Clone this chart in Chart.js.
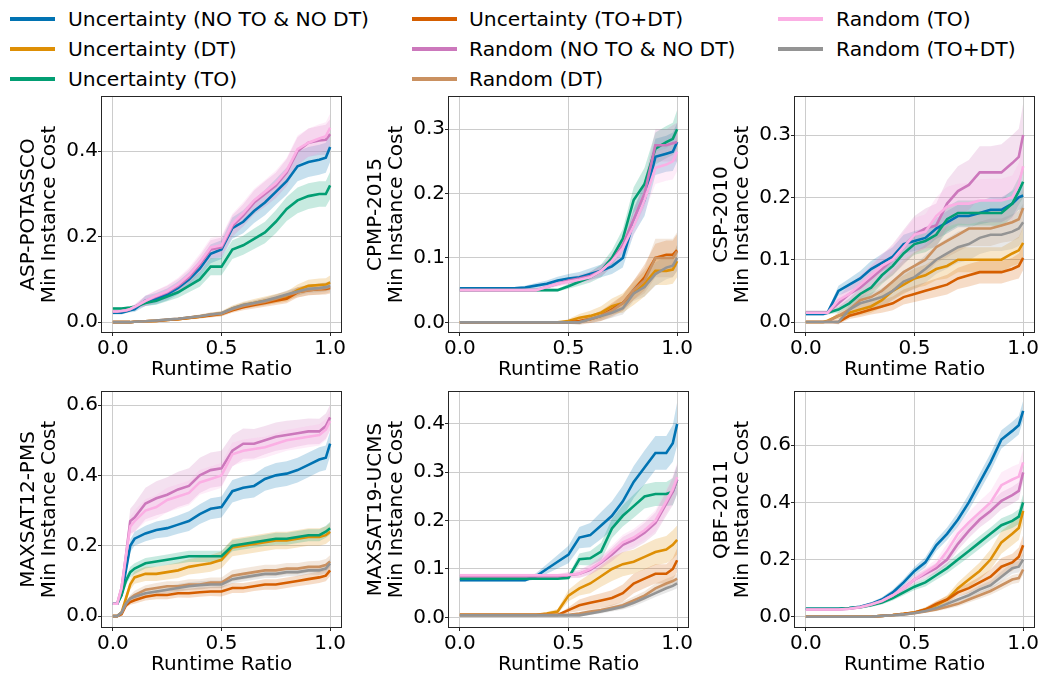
<!DOCTYPE html>
<html><head><meta charset="utf-8">
<script src="https://cdn.jsdelivr.net/npm/chart.js@4.4.0/dist/chart.umd.min.js"></script>
<style>
html,body{margin:0;padding:0;background:#fff;}
body{width:1040px;height:677px;position:relative;overflow:hidden;font-family:'DejaVu Sans',sans-serif;}
canvas{position:absolute;}
.lg-line{position:absolute;height:4px;width:45px;}
.lg-text{position:absolute;font-size:20.3px;line-height:30px;white-space:nowrap;color:#000;}
</style></head><body>
<div id="legend"></div>
<canvas id="p0" width="346" height="292" style="left:0px;top:90px"></canvas>
<canvas id="p1" width="346" height="292" style="left:347px;top:90px"></canvas>
<canvas id="p2" width="346" height="292" style="left:693px;top:90px"></canvas>
<canvas id="p3" width="346" height="292" style="left:0px;top:385px"></canvas>
<canvas id="p4" width="346" height="292" style="left:347px;top:385px"></canvas>
<canvas id="p5" width="346" height="292" style="left:693px;top:385px"></canvas>
<script>
// ---------- data ----------
const X = [0,0.02,0.04,0.06,0.08,0.1,0.15,0.2,0.25,0.3,0.35,0.4,0.45,0.5,0.55,0.6,0.65,0.7,0.75,0.8,0.85,0.9,0.95,0.98,1.0];
const SERIES = ['Uncertainty (NO TO & NO DT)','Uncertainty (DT)','Uncertainty (TO)','Uncertainty (TO+DT)',
                'Random (NO TO & NO DT)','Random (DT)','Random (TO)','Random (TO+DT)'];
const COLORS = ['#0173b2','#de8f05','#029e73','#d55e00','#cc78bc','#ca9161','#fbafe4','#949494'];
const PANELS = ['ASP-POTASSCO','CPMP-2015','CSP-2010','MAXSAT12-PMS','MAXSAT19-UCMS','QBF-2011'];
const X_TICKS = [0,0.5,1.0];
const Y_TICKS = [[0,0.2,0.4],[0,0.1,0.2,0.3],[0,0.1,0.2,0.3],[0,0.2,0.4,0.6],[0,0.1,0.2,0.3,0.4],[0,0.2,0.4,0.6]];
const Y_MIN = [-0.023,-0.015,-0.016,-0.031,-0.020,-0.036];
const Y_MAX = [0.527,0.350,0.361,0.637,0.466,0.786];

// mean curves (order of SERIES)
const aspMean = [
 [0.022,0.022,0.022,0.025,0.028,0.03,0.05,0.055,0.065,0.08,0.1,0.125,0.16,0.17,0.22,0.235,0.26,0.28,0.305,0.33,0.365,0.375,0.38,0.385,0.41],
 [0,0,0,0,0,0.001,0.002,0.003,0.005,0.007,0.01,0.013,0.017,0.02,0.032,0.04,0.045,0.05,0.055,0.06,0.075,0.085,0.087,0.088,0.093],
 [0.032,0.032,0.032,0.033,0.034,0.036,0.045,0.05,0.06,0.07,0.085,0.1,0.13,0.13,0.17,0.18,0.195,0.21,0.235,0.265,0.285,0.295,0.3,0.3,0.32],
 [0,0,0,0,0,0.001,0.002,0.003,0.005,0.007,0.01,0.013,0.016,0.019,0.028,0.035,0.04,0.045,0.05,0.055,0.07,0.075,0.077,0.078,0.08],
 [0.025,0.025,0.026,0.027,0.03,0.035,0.05,0.06,0.07,0.085,0.105,0.135,0.17,0.175,0.225,0.25,0.28,0.3,0.32,0.35,0.4,0.42,0.425,0.427,0.44],
 [0,0,0,0,0,0.001,0.002,0.004,0.006,0.008,0.011,0.014,0.018,0.02,0.03,0.038,0.043,0.048,0.055,0.063,0.07,0.075,0.078,0.08,0.083],
 [0.025,0.025,0.026,0.028,0.031,0.036,0.05,0.062,0.072,0.088,0.11,0.14,0.175,0.18,0.23,0.255,0.285,0.305,0.325,0.355,0.405,0.42,0.43,0.435,0.455],
 [0,0,0,0,0,0.001,0.002,0.004,0.006,0.008,0.011,0.014,0.018,0.021,0.032,0.04,0.045,0.05,0.057,0.065,0.072,0.078,0.08,0.082,0.085]
];
const aspSpread = [
 [0.004,0.004,0.004,0.004,0.005,0.006,0.012,0.013,0.014,0.015,0.017,0.02,0.022,0.022,0.025,0.027,0.028,0.03,0.03,0.032,0.035,0.035,0.035,0.035,0.035],
 [0,0,0,0,0,0.001,0.001,0.002,0.003,0.003,0.004,0.005,0.005,0.006,0.007,0.008,0.009,0.01,0.011,0.012,0.013,0.014,0.015,0.015,0.016],
 [0.003,0.003,0.003,0.003,0.004,0.004,0.007,0.009,0.011,0.013,0.015,0.017,0.02,0.02,0.022,0.022,0.024,0.025,0.027,0.028,0.03,0.03,0.03,0.03,0.032],
 [0,0,0,0,0,0.001,0.001,0.002,0.002,0.003,0.003,0.004,0.005,0.005,0.006,0.007,0.008,0.009,0.01,0.011,0.012,0.012,0.013,0.013,0.013],
 [0.004,0.004,0.004,0.005,0.005,0.006,0.012,0.014,0.015,0.016,0.018,0.02,0.022,0.023,0.025,0.026,0.028,0.03,0.03,0.032,0.033,0.033,0.034,0.035,0.035],
 [0,0,0,0,0,0.001,0.001,0.002,0.002,0.003,0.003,0.004,0.005,0.005,0.006,0.007,0.008,0.009,0.01,0.011,0.012,0.012,0.013,0.013,0.013],
 [0.004,0.004,0.004,0.005,0.005,0.006,0.012,0.013,0.015,0.016,0.018,0.02,0.022,0.022,0.024,0.026,0.027,0.028,0.03,0.03,0.032,0.033,0.033,0.033,0.033],
 [0,0,0,0,0,0.001,0.001,0.001,0.002,0.002,0.003,0.003,0.004,0.004,0.005,0.006,0.006,0.007,0.008,0.008,0.009,0.01,0.01,0.01,0.01]
];
const cpmpMean = [
 [0.053,0.053,0.053,0.053,0.053,0.053,0.053,0.053,0.053,0.054,0.057,0.06,0.065,0.068,0.07,0.075,0.08,0.087,0.1,0.157,0.19,0.257,0.262,0.265,0.28],
 [0,0,0,0,0,0,0,0,0,0,0,0,0,0.002,0.007,0.01,0.015,0.025,0.03,0.045,0.06,0.08,0.08,0.082,0.095],
 [0.05,0.05,0.05,0.05,0.05,0.05,0.05,0.05,0.05,0.05,0.05,0.05,0.05,0.056,0.063,0.07,0.08,0.1,0.13,0.19,0.215,0.27,0.28,0.285,0.3],
 [0,0,0,0,0,0,0,0,0,0,0,0,0,0,0.002,0.005,0.01,0.02,0.03,0.05,0.07,0.1,0.105,0.105,0.112],
 [0.05,0.05,0.05,0.05,0.05,0.05,0.05,0.05,0.05,0.05,0.05,0.055,0.06,0.065,0.068,0.072,0.08,0.095,0.12,0.16,0.2,0.275,0.275,0.278,0.28],
 [0,0,0,0,0,0,0,0,0,0,0,0,0,0,0,0.005,0.01,0.018,0.03,0.05,0.065,0.1,0.1,0.1,0.11],
 [0.05,0.05,0.05,0.05,0.05,0.05,0.05,0.05,0.05,0.05,0.05,0.055,0.06,0.063,0.066,0.07,0.08,0.095,0.115,0.15,0.19,0.24,0.245,0.25,0.265],
 [0,0,0,0,0,0,0,0,0,0,0,0,0,0,0,0.005,0.01,0.015,0.022,0.045,0.055,0.075,0.085,0.088,0.1]
];
const cpmpSpread = [
 [0.002,0.002,0.002,0.002,0.002,0.002,0.002,0.002,0.002,0.003,0.004,0.005,0.006,0.007,0.008,0.009,0.01,0.012,0.015,0.02,0.025,0.028,0.028,0.03,0.03],
 [0,0,0,0,0,0,0,0,0,0,0,0,0,0.003,0.006,0.008,0.01,0.012,0.015,0.018,0.02,0.022,0.022,0.022,0.025],
 [0.002,0.002,0.002,0.002,0.002,0.002,0.002,0.002,0.002,0.002,0.002,0.002,0.002,0.004,0.006,0.008,0.01,0.012,0.015,0.02,0.025,0.025,0.025,0.025,0.03],
 [0,0,0,0,0,0,0,0,0,0,0,0,0,0.002,0.004,0.006,0.008,0.01,0.012,0.015,0.02,0.022,0.022,0.022,0.025],
 [0.002,0.002,0.002,0.002,0.002,0.002,0.002,0.002,0.002,0.002,0.002,0.003,0.004,0.005,0.006,0.007,0.008,0.01,0.012,0.015,0.02,0.025,0.025,0.028,0.03],
 [0,0,0,0,0,0,0,0,0,0,0,0,0,0.002,0.004,0.006,0.008,0.01,0.012,0.015,0.02,0.03,0.03,0.03,0.03],
 [0.002,0.002,0.002,0.002,0.002,0.002,0.002,0.002,0.002,0.002,0.002,0.003,0.004,0.005,0.006,0.007,0.008,0.01,0.012,0.015,0.02,0.025,0.025,0.028,0.03],
 [0,0,0,0,0,0,0,0,0,0,0,0,0,0.002,0.003,0.005,0.007,0.008,0.01,0.012,0.015,0.018,0.018,0.018,0.02]
];
const cspMean = [
 [0.013,0.013,0.013,0.013,0.013,0.015,0.05,0.06,0.07,0.085,0.095,0.105,0.125,0.13,0.135,0.15,0.16,0.17,0.17,0.175,0.18,0.18,0.19,0.2,0.203],
 [0,0,0,0,0,0.002,0.01,0.015,0.02,0.025,0.035,0.05,0.06,0.07,0.075,0.085,0.09,0.1,0.1,0.1,0.1,0.1,0.11,0.115,0.127],
 [0.015,0.015,0.015,0.015,0.015,0.015,0.02,0.03,0.045,0.055,0.075,0.09,0.11,0.125,0.13,0.14,0.165,0.175,0.175,0.175,0.175,0.175,0.19,0.21,0.225],
 [0,0,0,0,0,0,0,0.01,0.015,0.02,0.025,0.03,0.04,0.045,0.05,0.055,0.06,0.07,0.075,0.08,0.08,0.08,0.085,0.09,0.103],
 [0.015,0.015,0.015,0.015,0.015,0.015,0.03,0.045,0.055,0.07,0.085,0.1,0.12,0.14,0.15,0.155,0.19,0.21,0.22,0.24,0.24,0.24,0.255,0.265,0.3],
 [0,0,0,0,0,0.001,0.01,0.02,0.035,0.04,0.05,0.065,0.08,0.09,0.1,0.12,0.13,0.14,0.15,0.15,0.15,0.155,0.16,0.165,0.183],
 [0.015,0.015,0.015,0.015,0.015,0.015,0.035,0.045,0.06,0.075,0.09,0.1,0.12,0.14,0.145,0.17,0.185,0.19,0.19,0.195,0.195,0.195,0.2,0.22,0.25],
 [0,0,0,0,0,0,0,0.02,0.03,0.035,0.04,0.05,0.065,0.072,0.085,0.1,0.11,0.12,0.125,0.135,0.14,0.14,0.145,0.15,0.16]
];
const cspSpread = [
 [0.003,0.003,0.003,0.003,0.003,0.003,0.008,0.01,0.012,0.013,0.014,0.015,0.015,0.016,0.016,0.017,0.018,0.018,0.018,0.018,0.02,0.02,0.02,0.02,0.022],
 [0,0,0,0,0,0,0.005,0.007,0.009,0.01,0.012,0.014,0.015,0.016,0.017,0.018,0.02,0.02,0.02,0.02,0.02,0.02,0.02,0.022,0.025],
 [0.003,0.003,0.003,0.003,0.003,0.003,0.005,0.008,0.01,0.012,0.014,0.015,0.016,0.017,0.018,0.018,0.02,0.02,0.02,0.02,0.02,0.022,0.022,0.022,0.025],
 [0,0,0,0,0,0,0.003,0.005,0.007,0.008,0.01,0.011,0.012,0.013,0.014,0.015,0.016,0.017,0.018,0.018,0.018,0.018,0.018,0.02,0.02],
 [0.003,0.003,0.003,0.003,0.003,0.003,0.01,0.015,0.018,0.02,0.022,0.025,0.028,0.03,0.032,0.035,0.038,0.04,0.04,0.042,0.042,0.045,0.045,0.045,0.05],
 [0,0,0,0,0,0,0.006,0.01,0.012,0.014,0.016,0.018,0.02,0.022,0.024,0.025,0.026,0.027,0.028,0.028,0.028,0.028,0.03,0.03,0.032],
 [0.003,0.003,0.003,0.003,0.003,0.003,0.01,0.013,0.016,0.018,0.02,0.022,0.025,0.027,0.028,0.03,0.032,0.032,0.033,0.034,0.035,0.035,0.035,0.035,0.04],
 [0,0,0,0,0,0,0.004,0.008,0.01,0.012,0.014,0.016,0.018,0.02,0.022,0.023,0.024,0.025,0.026,0.026,0.026,0.026,0.028,0.028,0.03]
];
const ms12Mean = [
 [0.035,0.035,0.06,0.13,0.2,0.22,0.235,0.245,0.25,0.26,0.27,0.29,0.305,0.31,0.355,0.365,0.37,0.39,0.4,0.405,0.415,0.43,0.445,0.45,0.49],
 [0,0,0.01,0.05,0.09,0.11,0.12,0.12,0.125,0.13,0.14,0.145,0.15,0.16,0.195,0.2,0.205,0.21,0.215,0.215,0.22,0.225,0.225,0.23,0.24],
 [0.035,0.035,0.06,0.1,0.125,0.135,0.15,0.155,0.16,0.165,0.17,0.17,0.17,0.17,0.2,0.205,0.21,0.215,0.22,0.22,0.225,0.23,0.23,0.24,0.25],
 [0,0,0.005,0.03,0.04,0.045,0.055,0.06,0.06,0.065,0.065,0.068,0.07,0.07,0.08,0.08,0.085,0.09,0.09,0.095,0.1,0.105,0.11,0.115,0.13],
 [0.035,0.035,0.08,0.17,0.27,0.28,0.32,0.335,0.345,0.36,0.37,0.4,0.415,0.42,0.47,0.49,0.49,0.5,0.51,0.515,0.52,0.525,0.525,0.54,0.565],
 [0,0,0.01,0.035,0.05,0.06,0.075,0.08,0.085,0.085,0.09,0.09,0.095,0.095,0.115,0.12,0.125,0.13,0.13,0.135,0.135,0.14,0.14,0.145,0.155],
 [0.035,0.035,0.08,0.17,0.255,0.27,0.3,0.31,0.33,0.34,0.35,0.38,0.39,0.4,0.46,0.47,0.475,0.48,0.49,0.5,0.505,0.51,0.515,0.53,0.555],
 [0,0,0.01,0.035,0.05,0.055,0.065,0.07,0.075,0.08,0.085,0.088,0.09,0.09,0.105,0.11,0.115,0.12,0.12,0.125,0.125,0.13,0.13,0.135,0.15]
];
const ms12Spread = [
 [0.003,0.003,0.006,0.012,0.018,0.02,0.022,0.024,0.025,0.026,0.028,0.028,0.03,0.03,0.032,0.032,0.033,0.034,0.035,0.035,0.035,0.035,0.035,0.035,0.035],
 [0,0,0.003,0.01,0.015,0.018,0.02,0.02,0.021,0.022,0.022,0.023,0.024,0.024,0.025,0.025,0.025,0.025,0.025,0.025,0.025,0.025,0.025,0.025,0.025],
 [0.003,0.003,0.006,0.012,0.015,0.015,0.015,0.015,0.015,0.016,0.016,0.016,0.016,0.016,0.016,0.016,0.016,0.016,0.017,0.017,0.017,0.017,0.017,0.017,0.018],
 [0,0,0.002,0.006,0.008,0.01,0.011,0.012,0.012,0.012,0.013,0.013,0.013,0.014,0.014,0.014,0.014,0.015,0.015,0.015,0.015,0.016,0.016,0.016,0.016],
 [0.003,0.003,0.01,0.025,0.035,0.04,0.045,0.048,0.05,0.05,0.05,0.05,0.05,0.05,0.045,0.043,0.042,0.04,0.04,0.04,0.038,0.037,0.036,0.036,0.036],
 [0,0,0.002,0.008,0.01,0.012,0.013,0.014,0.014,0.014,0.015,0.015,0.015,0.015,0.016,0.016,0.016,0.016,0.016,0.016,0.016,0.016,0.017,0.017,0.018],
 [0.003,0.003,0.01,0.02,0.028,0.03,0.032,0.034,0.035,0.035,0.035,0.035,0.035,0.035,0.033,0.032,0.031,0.03,0.03,0.03,0.03,0.03,0.03,0.03,0.03],
 [0,0,0.002,0.006,0.008,0.009,0.01,0.01,0.01,0.011,0.011,0.011,0.011,0.011,0.012,0.012,0.012,0.012,0.012,0.012,0.012,0.012,0.013,0.013,0.013]
];
const ms19Mean = [
 [0.077,0.077,0.077,0.077,0.077,0.077,0.077,0.077,0.077,0.077,0.085,0.1,0.115,0.13,0.165,0.17,0.19,0.21,0.24,0.28,0.31,0.34,0.34,0.36,0.4],
 [0.005,0.005,0.005,0.005,0.005,0.005,0.005,0.005,0.005,0.005,0.005,0.008,0.012,0.045,0.06,0.07,0.085,0.1,0.11,0.115,0.125,0.135,0.14,0.15,0.16],
 [0.08,0.08,0.08,0.08,0.08,0.08,0.08,0.08,0.08,0.08,0.08,0.08,0.08,0.082,0.12,0.122,0.136,0.184,0.21,0.23,0.25,0.255,0.255,0.26,0.285],
 [0.005,0.005,0.005,0.005,0.005,0.005,0.005,0.005,0.005,0.005,0.005,0.005,0.005,0.015,0.025,0.03,0.035,0.04,0.05,0.07,0.08,0.09,0.09,0.1,0.118],
 [0.085,0.085,0.085,0.085,0.085,0.085,0.085,0.085,0.085,0.085,0.085,0.085,0.085,0.087,0.09,0.098,0.113,0.13,0.15,0.16,0.175,0.195,0.235,0.26,0.285],
 [0.005,0.005,0.005,0.005,0.005,0.005,0.005,0.005,0.005,0.005,0.005,0.005,0.005,0.005,0.008,0.012,0.015,0.02,0.025,0.035,0.045,0.06,0.07,0.075,0.08],
 [0.087,0.087,0.087,0.087,0.087,0.087,0.087,0.087,0.087,0.087,0.087,0.087,0.087,0.088,0.09,0.1,0.115,0.135,0.155,0.165,0.18,0.2,0.24,0.265,0.29],
 [0.004,0.004,0.004,0.004,0.004,0.004,0.004,0.004,0.004,0.004,0.004,0.004,0.004,0.004,0.004,0.008,0.012,0.017,0.022,0.03,0.04,0.05,0.06,0.065,0.07]
];
const ms19Spread = [
 [0.003,0.003,0.003,0.003,0.003,0.003,0.003,0.003,0.003,0.003,0.006,0.01,0.014,0.018,0.022,0.025,0.028,0.03,0.032,0.033,0.035,0.035,0.035,0.038,0.045],
 [0.001,0.001,0.001,0.001,0.001,0.001,0.001,0.001,0.001,0.001,0.001,0.003,0.005,0.012,0.015,0.02,0.022,0.025,0.025,0.025,0.026,0.027,0.028,0.03,0.03],
 [0.003,0.003,0.003,0.003,0.003,0.003,0.003,0.003,0.003,0.003,0.003,0.003,0.003,0.005,0.012,0.015,0.018,0.02,0.022,0.024,0.025,0.025,0.025,0.028,0.03],
 [0.001,0.001,0.001,0.001,0.001,0.001,0.001,0.001,0.001,0.001,0.001,0.001,0.001,0.006,0.012,0.014,0.015,0.016,0.018,0.02,0.02,0.02,0.02,0.022,0.025],
 [0.003,0.003,0.003,0.003,0.003,0.003,0.003,0.003,0.003,0.003,0.003,0.003,0.003,0.006,0.008,0.01,0.012,0.014,0.016,0.018,0.02,0.022,0.025,0.028,0.03],
 [0.001,0.001,0.001,0.001,0.001,0.001,0.001,0.001,0.001,0.001,0.001,0.001,0.001,0.001,0.003,0.004,0.005,0.006,0.007,0.008,0.009,0.01,0.01,0.01,0.01],
 [0.003,0.003,0.003,0.003,0.003,0.003,0.003,0.003,0.003,0.003,0.003,0.003,0.003,0.006,0.008,0.01,0.012,0.014,0.016,0.018,0.02,0.022,0.025,0.028,0.03],
 [0.001,0.001,0.001,0.001,0.001,0.001,0.001,0.001,0.001,0.001,0.001,0.001,0.001,0.001,0.001,0.003,0.004,0.005,0.006,0.007,0.008,0.008,0.009,0.009,0.01]
];
const qbfMean = [
 [0.028,0.028,0.028,0.028,0.028,0.028,0.028,0.03,0.035,0.045,0.06,0.085,0.12,0.16,0.19,0.25,0.29,0.34,0.4,0.47,0.54,0.62,0.65,0.67,0.72],
 [0,0,0,0,0,0,0,0,0,0,0.003,0.006,0.01,0.015,0.025,0.04,0.06,0.1,0.13,0.16,0.2,0.26,0.29,0.31,0.37],
 [0.028,0.028,0.028,0.028,0.028,0.028,0.028,0.03,0.033,0.04,0.05,0.065,0.085,0.105,0.12,0.145,0.17,0.2,0.23,0.26,0.29,0.32,0.335,0.35,0.4],
 [0,0,0,0,0,0,0,0,0,0,0.003,0.006,0.01,0.015,0.025,0.045,0.06,0.085,0.1,0.12,0.14,0.175,0.19,0.21,0.25],
 [0.025,0.025,0.025,0.025,0.025,0.025,0.025,0.028,0.033,0.043,0.055,0.075,0.1,0.13,0.15,0.17,0.2,0.255,0.3,0.34,0.37,0.405,0.425,0.44,0.505],
 [0,0,0,0,0,0,0,0,0,0,0.003,0.005,0.008,0.012,0.018,0.025,0.035,0.045,0.06,0.075,0.09,0.11,0.13,0.135,0.165],
 [0.025,0.025,0.025,0.025,0.025,0.025,0.025,0.028,0.033,0.043,0.055,0.075,0.1,0.13,0.155,0.18,0.23,0.29,0.33,0.365,0.4,0.46,0.48,0.49,0.54],
 [0,0,0,0,0,0,0,0,0,0,0.003,0.005,0.008,0.013,0.02,0.03,0.045,0.06,0.075,0.095,0.11,0.14,0.17,0.175,0.2]
];
const qbfSpread = [
 [0.003,0.003,0.003,0.003,0.003,0.003,0.003,0.004,0.005,0.006,0.008,0.01,0.012,0.015,0.018,0.02,0.022,0.025,0.028,0.03,0.032,0.032,0.032,0.033,0.035],
 [0,0,0,0,0,0,0,0,0,0,0.001,0.002,0.003,0.005,0.008,0.012,0.015,0.02,0.025,0.03,0.035,0.04,0.04,0.042,0.045],
 [0.003,0.003,0.003,0.003,0.003,0.003,0.003,0.004,0.005,0.006,0.007,0.008,0.01,0.012,0.014,0.016,0.018,0.02,0.022,0.022,0.022,0.024,0.025,0.026,0.028],
 [0,0,0,0,0,0,0,0,0,0,0.001,0.002,0.003,0.005,0.007,0.01,0.012,0.015,0.018,0.02,0.025,0.03,0.03,0.032,0.035],
 [0.003,0.003,0.003,0.003,0.003,0.003,0.003,0.004,0.005,0.006,0.008,0.01,0.012,0.014,0.016,0.018,0.02,0.022,0.025,0.028,0.03,0.03,0.03,0.03,0.035],
 [0,0,0,0,0,0,0,0,0,0,0.001,0.002,0.002,0.003,0.004,0.006,0.008,0.009,0.01,0.012,0.013,0.015,0.016,0.016,0.018],
 [0.003,0.003,0.003,0.003,0.003,0.003,0.003,0.004,0.005,0.006,0.008,0.01,0.012,0.015,0.018,0.02,0.025,0.03,0.035,0.04,0.04,0.045,0.045,0.045,0.045],
 [0,0,0,0,0,0,0,0,0,0,0.001,0.002,0.002,0.003,0.005,0.007,0.008,0.01,0.012,0.014,0.015,0.018,0.02,0.02,0.022]
];
const MEANS = [aspMean, cpmpMean, cspMean, ms12Mean, ms19Mean, qbfMean];
const SPREADS = [aspSpread, cpmpSpread, cspSpread, ms12Spread, ms19Spread, qbfSpread];

// ---------- legend (HTML text) ----------
const LEG_COL_LINE = [10, 412, 778];
const LEG_COL_TEXT = [68, 469, 836];
const LEG_ROW_Y = [18.5, 49, 79];
(function buildLegend(){
  const host = document.getElementById('legend');
  SERIES.forEach((name, k) => {
    const col = Math.floor(k / 3), row = k % 3;
    const ln = document.createElement('div');
    ln.className = 'lg-line';
    ln.style.left = LEG_COL_LINE[col] + 'px';
    ln.style.top = (LEG_ROW_Y[row] - 2) + 'px';
    ln.style.background = COLORS[k];
    host.appendChild(ln);
    const tx = document.createElement('div');
    tx.className = 'lg-text';
    tx.style.left = LEG_COL_TEXT[col] + 'px';
    tx.style.top = (LEG_ROW_Y[row] - 14.6) + 'px';
    tx.textContent = name;
    host.appendChild(tx);
  });
})();

// ---------- charts ----------
function rgba(hex, a) {
  const n = parseInt(hex.slice(1), 16);
  return `rgba(${(n>>16)&255},${(n>>8)&255},${n&255},${a})`;
}
const framePlugin = {
  id: 'frame',
  afterDraw(chart) {
    const {ctx, chartArea: a} = chart;
    ctx.save();
    ctx.strokeStyle = '#262626';
    ctx.lineWidth = 1;
    ctx.strokeRect(Math.round(a.left) - 0.5, Math.round(a.top) - 0.5,
                   Math.round(a.right - a.left) + 1, Math.round(a.bottom - a.top) + 1);
    ctx.restore();
  }
};
const FONT = {family: 'DejaVu Sans', size: 20};

function makeChart(p) {
  const datasets = [];
  for (let k = 0; k < 8; k++) {
    const m = MEANS[p][k], s = SPREADS[p][k];
    datasets.push({
      data: X.map((x, i) => ({x, y: m[i] - s[i]})),
      borderColor: 'rgba(0,0,0,0)', borderWidth: 0, pointRadius: 0, fill: false,
      order: 100 + (7 - k)
    });
    datasets.push({
      data: X.map((x, i) => ({x, y: m[i] + s[i]})),
      borderColor: 'rgba(0,0,0,0)', borderWidth: 0, pointRadius: 0,
      fill: '-1', backgroundColor: rgba(COLORS[k], 0.22),
      order: 100 + (7 - k)
    });
  }
  for (let k = 0; k < 8; k++) {
    const m = MEANS[p][k];
    datasets.push({
      label: SERIES[k],
      data: X.map((x, i) => ({x, y: m[i]})),
      borderColor: COLORS[k], borderWidth: 2.6, pointRadius: 0, fill: false,
      tension: 0, order: 7 - k
    });
  }
  new Chart(document.getElementById('p' + p), {
    type: 'line',
    data: {datasets},
    plugins: [framePlugin],
    options: {
      responsive: false, animation: false, devicePixelRatio: 1,
      layout: {padding: {left: 0, top: 7, right: 5, bottom: 0}, autoPadding: false},
      plugins: {legend: {display: false}, tooltip: {enabled: false}},
      scales: {
        x: {
          type: 'linear', min: -0.05, max: 1.05,
          afterBuildTicks: s => { s.ticks = X_TICKS.map(v => ({value: v})); },
          afterFit: s => { s.height = 50; s.paddingLeft = 0; s.paddingRight = 0; },
          ticks: {callback: v => Number(v).toFixed(1), font: FONT, color: '#000', padding: 1, maxRotation: 0, autoSkip: false},
          grid: {color: '#cccccc', lineWidth: 1, tickLength: 4, tickColor: '#262626', tickWidth: 1},
          border: {display: false},
          title: {display: true, text: 'Runtime Ratio', font: FONT, color: '#000', padding: {top: 0, bottom: 0}}
        },
        y: {
          type: 'linear', min: Y_MIN[p], max: Y_MAX[p],
          afterBuildTicks: s => { s.ticks = Y_TICKS[p].map(v => ({value: v})); },
          afterFit: s => { s.width = 102; s.paddingTop = 0; s.paddingBottom = 0; },
          ticks: {callback: v => Number(v).toFixed(1), font: FONT, color: '#000', padding: 0, autoSkip: false},
          grid: {color: '#cccccc', lineWidth: 1, tickLength: 4, tickColor: '#262626', tickWidth: 1},
          border: {display: false},
          title: {display: true, text: [PANELS[p], 'Min Instance Cost'],
                  font: {family: 'DejaVu Sans', size: 20, lineHeight: 1.05}, color: '#000',
                  padding: {top: 18.5, bottom: 0}}
        }
      }
    }
  });
}
for (let p = 0; p < 6; p++) makeChart(p);
</script>
</body></html>
